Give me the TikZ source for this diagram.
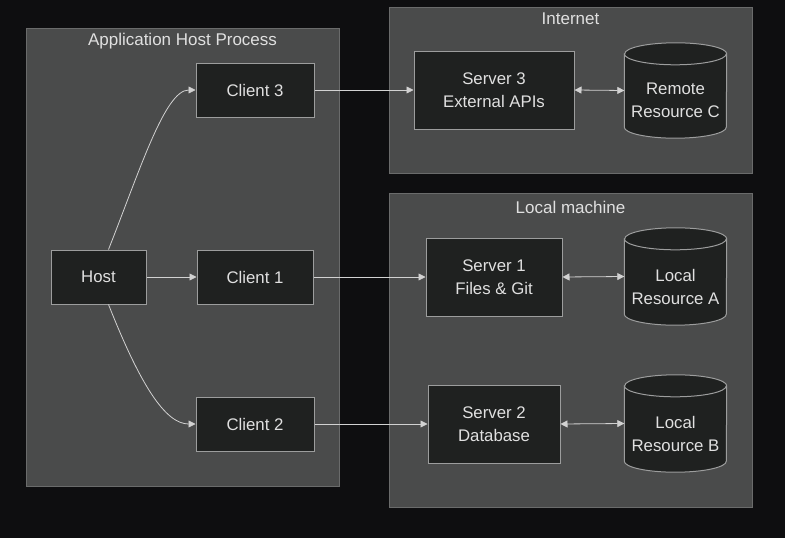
\documentclass[tikz,border=0pt]{standalone}
\usepackage{fontspec}
\setmainfont{Liberation Sans}
\usetikzlibrary{arrows.meta,calc}

\definecolor{pagebg}{HTML}{0E0E10}
\definecolor{groupfill}{HTML}{4A4B4B}
\definecolor{groupline}{HTML}{6A6B6B}
\definecolor{boxfill}{HTML}{1F2120}
\definecolor{boxline}{HTML}{9C9D9D}
\definecolor{wire}{HTML}{D2D2D2}
\definecolor{ink}{HTML}{E0E0E0}

\tikzset{
  group/.style={draw=groupline, fill=groupfill, line width=0.9pt},
  grouptitle/.style={text=ink, font=\fontsize{17}{20}\selectfont, inner sep=0pt},
  box/.style={draw=boxline, fill=boxfill, line width=1pt, text=ink,
    font=\fontsize{16.8}{23}\selectfont, align=center, inner sep=0pt},
  dbshape/.style={inner sep=0pt, minimum width=102pt, minimum height=96pt},
  dbtext/.style={text=ink, font=\fontsize{16.8}{23}\selectfont, align=center, inner sep=0pt},
  link/.style={draw=wire, line width=0.8pt, -{Triangle[length=7pt,width=7pt]}},
  duplex/.style={draw=wire, line width=0.8pt,
    {Triangle[length=7pt,width=7pt]}-{Triangle[length=7pt,width=7pt]}},
}

% cylinder drawn round an empty node of the same size
\newcommand\dbdraw[1]{%
  \draw[draw=boxline, fill=boxfill, line width=1pt]
    ($(#1.north west)+(0,11)$) -- ($(#1.south west)+(0,-11)$)
    arc[start angle=180, end angle=360, x radius=51pt, y radius=11pt]
    -- ($(#1.north east)+(0,11)$)
    arc[start angle=0, end angle=180, x radius=51pt, y radius=11pt] -- cycle;
  \draw[draw=boxline, line width=1pt]
    ($(#1.north west)+(0,11)$)
    arc[start angle=180, end angle=360, x radius=51pt, y radius=11pt];
}

\begin{document}
\begin{tikzpicture}[x=1pt, y=-1pt]
  \fill[pagebg] (0,0) rectangle (785,538);
  \useasboundingbox (0,0) rectangle (785,538);

  % groups
  \draw[group] (26,28) rectangle (339,486);
  \node[grouptitle] (apptitle) at (182.5,41) {Application Host Process};
  \draw[group] (389,7) rectangle (752,173);
  \node[grouptitle] (nettitle) at (570.5,19) {Internet};
  \draw[group] (389,193) rectangle (752,507);
  \node[grouptitle] (loctitle) at (570.5,207) {Local machine};

  % host side
  \node[box, minimum width=95pt, minimum height=54pt] (host) at (98.5,277) {Host};
  \node[box, minimum width=118pt, minimum height=54pt] (c3) at (255,90) {Client 3};
  \node[box, minimum width=116pt, minimum height=54pt] (c1) at (255,277) {Client 1};
  \node[box, minimum width=118pt, minimum height=54pt] (c2) at (255,424) {Client 2};

  % servers
  \node[box, minimum width=160pt, minimum height=78pt] (s3) at (494,90) {Server 3\\External APIs};
  \node[box, minimum width=136pt, minimum height=78pt] (s1) at (494,277) {Server 1\\Files \& Git};
  \node[box, minimum width=132pt, minimum height=78pt] (s2) at (494,424) {Server 2\\Database};

  % resources
  \node[dbshape, minimum height=95pt] (rc) at (675.5,90.5) {};
  \dbdraw{rc}
  \node[dbtext] (rctext) at (675.5,100.5) {Remote\\Resource C};
  \node[dbshape, minimum height=97pt] (ra) at (675.5,276.5) {};
  \dbdraw{ra}
  \node[dbtext] (ratext) at (675.5,286.5) {Local\\Resource A};
  \node[dbshape, minimum height=97pt] (rb) at (675.5,423.5) {};
  \dbdraw{rb}
  \node[dbtext] (rbtext) at (675.5,433.5) {Local\\Resource B};

  % connectors
  \draw[link] ($(host.north west)+(58,0)$) .. controls (140,170) and (165,90) .. (c3.west);
  \draw[link] ($(host.south west)+(58,0)$) .. controls (140,384) and (165,424) .. (c2.west);
  \draw[link] (host.east) -- (c1.west);
  \draw[link] (c3.east) -- (s3.west);
  \draw[link] (c1.east) -- (s1.west);
  \draw[link] (c2.east) -- (s2.west);
  \draw[duplex] (s3.east) -- (rc.west);
  \draw[duplex] (s1.east) -- (ra.west);
  \draw[duplex] (s2.east) -- (rb.west);
\end{tikzpicture}
\end{document}
